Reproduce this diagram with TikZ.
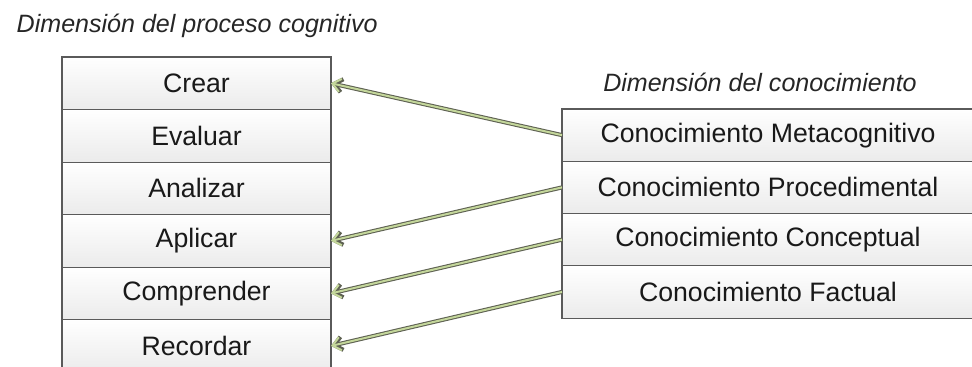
\documentclass[tikz,border=0pt]{standalone}
\usepackage{fontspec}
\setmainfont{Liberation Sans}
\usepackage{xcolor}
\usepackage{tikz}
\usetikzlibrary{arrows.meta, positioning}

\definecolor{boxedge}{HTML}{5A5A5A}
\definecolor{boxfill}{HTML}{EBEBEB}
\definecolor{linkfill}{HTML}{C4D79B}
\definecolor{linkedge}{HTML}{5E6152}

\begin{document}
\begin{tikzpicture}[
            x=0.75pt, y=-0.75pt,
            node distance=0pt,
            level/.style={rectangle, draw=boxedge, line width=0.8pt, top color=white, bottom color=boxfill, minimum width=201.75pt, minimum height=39.4pt, inner sep=0pt, outer sep=0pt, text=black!90, font=\fontsize{20}{24}\selectfont},
            kind/.style={level, minimum width=309pt, minimum height=39.2pt},
            title/.style={text=black!85, font=\fontsize{18.8}{22}\selectfont\itshape},
            link/.style={draw=linkfill, line width=1.5pt, -{Straight Barb[length=6pt, width=10pt]}, preaction={draw=linkedge, line width=3.1pt, -{Straight Barb[length=6pt, width=10pt]}}}
        ]

        % --- Frame ---
        \useasboundingbox (0,0) rectangle (972,367);
        \clip (0,0) rectangle (972,367);

        % --- Titles ---
        \node[title, anchor=base west] (t_proc) at (12,33) {Dimensión del proceso cognitivo};
        \node[title, anchor=base] (t_con) at (760,92) {Dimensión del conocimiento};

        % --- Cognitive process column ---
        \node[level, anchor=north west] (crear) at (62,57) {Crear};
        \node[level, below=of crear] (evaluar) {Evaluar};
        \node[level, below=of evaluar] (analizar) {Analizar};
        \node[level, below=of analizar] (aplicar) {Aplicar};
        \node[level, below=of aplicar] (comprender) {Comprender};
        \node[level, below=of comprender] (recordar) {Recordar};

        % --- Knowledge column ---
        \node[kind, anchor=north west] (meta) at (562,109) {Conocimiento Metacognitivo};
        \node[kind, below=of meta] (proc) {Conocimiento Procedimental};
        \node[kind, below=of proc] (concep) {Conocimiento Conceptual};
        \node[kind, below=of concep] (fact) {Conocimiento Factual};

        % --- Links ---
        \draw[link] (meta.west) -- (crear.east);
        \draw[link] (proc.west) -- (aplicar.east);
        \draw[link] (concep.west) -- (comprender.east);
        \draw[link] (fact.west) -- (recordar.east);

\end{tikzpicture}
\end{document}
